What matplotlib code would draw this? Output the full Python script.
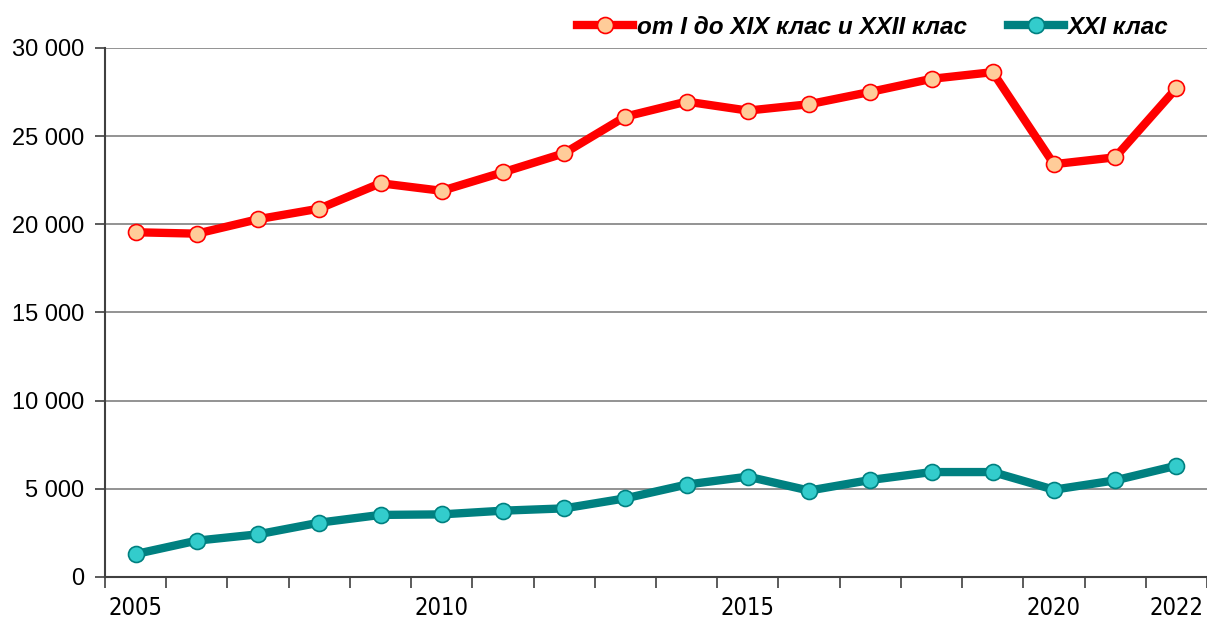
import matplotlib
matplotlib.use("Agg")
import matplotlib.pyplot as plt
from matplotlib.ticker import FuncFormatter
from matplotlib import font_manager

years = list(range(2005, 2023))
labeled_years = [2005, 2010, 2015, 2020, 2022]
red_series = [19550, 19470, 20290, 20890, 22330, 21900, 22950, 24030, 26110, 26960,
              26450, 26810, 27510, 28250, 28630, 23410, 23800, 27720]
teal_series = [1300, 2060, 2420, 3080, 3520, 3550, 3760, 3890, 4460, 5240,
               5690, 4900, 5500, 5950, 5950, 4950, 5480, 6310]
red_label = "от I до XIX клас и XXII клас"
teal_label = "XXI клас"

plt.rcParams['font.family'] = ['Liberation Sans', 'DejaVu Sans']

# look for a condensed sans face for the year labels
narrow_fp = None
for f in font_manager.fontManager.ttflist:
    if ("Narrow" in f.name or "Condensed" in f.name or str(f.stretch) in ("condensed", "semi-condensed")) \
            and f.style == "normal" and f.weight in (400, "normal", "regular"):
        narrow_fp = font_manager.FontProperties(fname=f.fname, size=17)
        break
if narrow_fp is None:
    narrow_fp = font_manager.FontProperties(family="Liberation Sans", size=16)

fig = plt.figure(figsize=(12.07, 6.2), dpi=100)
ax = fig.add_axes([0.087, 0.0694, 0.913, 0.8532])

x = list(range(len(years)))
ax.plot(x, red_series, color="#FF0000", lw=6, marker="o", ms=11.5,
        mfc="#FFCC99", mec="#FF0000", mew=1.2, label=red_label, zorder=3)
ax.plot(x, teal_series, color="#008080", lw=6, marker="o", ms=11.5,
        mfc="#33CCCC", mec="#008080", mew=1.2, label=teal_label, zorder=3)

ax.set_xlim(-0.5, len(years) - 0.5)
ax.set_ylim(0, 30000)
ax.set_yticks(range(0, 30001, 5000))
ax.yaxis.set_major_formatter(FuncFormatter(lambda v, p: f"{int(v):,}".replace(",", " ")))
ax.grid(axis="y", color="#808080", lw=1.2)
ax.set_axisbelow(True)

# category boundaries as ticks, year labels at centres
ax.set_xticks([i - 0.5 for i in range(len(years) + 1)])
ax.set_xticklabels([])
ax.set_xticks([years.index(y) for y in labeled_years], minor=True)
ax.set_xticklabels([str(y) for y in labeled_years], minor=True, fontproperties=narrow_fp)
ax.tick_params(axis="x", which="major", length=8, width=1.2, color="#404040")
ax.tick_params(axis="x", which="minor", length=0, pad=14)
ax.tick_params(axis="y", length=7, width=1.2, color="#404040", labelsize=17, pad=8)

for s in ["top", "right"]:
    ax.spines[s].set_visible(False)
for s in ["left", "bottom"]:
    ax.spines[s].set_color("#404040")
    ax.spines[s].set_linewidth(1.5)

leg = fig.legend(loc="upper right", bbox_to_anchor=(0.986, 1.01), ncol=2, frameon=False,
                 prop={"size": 17.5, "weight": "bold", "style": "italic"},
                 handlelength=2.3, handletextpad=0.15, columnspacing=1.7)

fig.savefig("out.png", dpi=100)
